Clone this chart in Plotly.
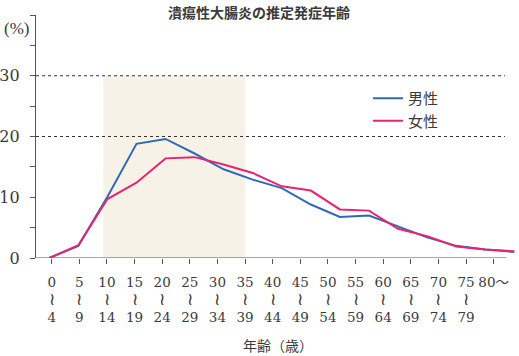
import plotly.graph_objects as go

SQ = '<span style="font-size:17px">≀</span>'
lows = [0, 5, 10, 15, 20, 25, 30, 35, 40, 45, 50, 55, 60, 65, 70, 75]
highs = [4, 9, 14, 19, 24, 29, 34, 39, 44, 49, 54, 59, 64, 69, 74, 79]
categories = [f"{a}<br>{SQ}<br>{b}" for a, b in zip(lows, highs)] + ["80〜"]
male = [0.0, 2.0, 10.1, 18.8, 19.6, 17.2, 14.6, 12.9, 11.5, 8.8, 6.75, 7.0, 5.2, 3.4, 2.0, 1.4, 1.0]
female = [0.0, 2.1, 9.7, 12.4, 16.4, 16.6, 15.4, 14.0, 11.8, 11.1, 8.0, 7.8, 4.8, 3.6, 1.9, 1.4, 1.1]
yticks = [0, 10, 20, 30]
gridlines = [20, 30]
shade_range = (1.87, 7.01)

title = "潰瘍性大腸炎の推定発症年齢"
xlabel = "年齢（歳）"
ylabel = "(%)"

SERIF = "DejaVu Serif, Noto Sans CJK JP, serif"
SERIF2 = "Liberation Serif, Noto Sans CJK JP, serif"
CJK = "Noto Sans CJK JP, Liberation Serif, sans-serif"
TXT = "#3a3a3a"
AX = "#555555"

idx = list(range(len(categories)))

fig = go.Figure()
fig.add_trace(go.Scatter(x=idx, y=male, name="男性", mode="lines", xaxis="x2",
                         line=dict(color="#2e6bb5", width=2)))
fig.add_trace(go.Scatter(x=idx, y=female, name="女性", mode="lines", xaxis="x2",
                         line=dict(color="#e8246f", width=2)))
# invisible trace to keep primary axis active
fig.add_trace(go.Scatter(x=idx, y=[None] * len(idx), showlegend=False, hoverinfo="skip"))

x_lo, x_hi = -0.568, 16.81
x_end = 16.47

shapes = [
    dict(type="rect", xref="x", yref="y", x0=shade_range[0], x1=shade_range[1], y0=0, y1=30,
         fillcolor="#f7f2e7", line=dict(width=0), layer="below"),
]
for g in gridlines:
    shapes.append(dict(type="line", xref="x", yref="y", x0=x_lo, x1=16.41, y0=g, y1=g,
                       line=dict(color="#333333", width=1, dash="3px,3px"), layer="below"))
shapes.append(dict(type="line", xref="x", yref="y", x0=x_lo, x1=x_end, y0=0, y1=0,
                   line=dict(color=AX, width=1.2), layer="above"))

fig.update_layout(
    width=519, height=356,
    margin=dict(l=36, r=3, t=15, b=98, autoexpand=False),
    plot_bgcolor="white", paper_bgcolor="white",
    shapes=shapes,
    xaxis=dict(range=[x_lo, x_hi], tickmode="array", tickvals=idx, ticktext=categories,
               showgrid=False, zeroline=False, showline=False, automargin=False,
               ticks="outside", ticklen=5, tickcolor=AX, tickwidth=1,
               tickfont=dict(family=SERIF, size=13.5, color=TXT), tickangle=0,
               ticklabelstandoff=7),
    xaxis2=dict(range=[-0.458, 16.06], overlaying="x", visible=False, matches=None),
    yaxis=dict(range=[0, 40], tickvals=yticks, showgrid=False, zeroline=False,
               showline=True, linecolor=AX, linewidth=1.2, automargin=False,
               ticks="outside", ticklen=5, tickcolor=AX,
               minor=dict(dtick=5, ticks="outside", ticklen=5, tickcolor=AX),
               tickfont=dict(family=SERIF, size=16, color=TXT), ticklabelstandoff=7),
    showlegend=True,
    legend=dict(x=(368 - 36) / 480, y=1 - (82 - 15) / 243, xanchor="left", yanchor="top",
                bgcolor="rgba(0,0,0,0)", font=dict(family=CJK, size=15, color=TXT),
                tracegroupgap=0),
    annotations=[
        dict(text="<b>" + title + "</b>", xref="paper", yref="paper", x=(259 - 36) / 480,
             y=1 + (15 - 12) / 243, xanchor="center", yanchor="middle", showarrow=False,
             font=dict(family=CJK, size=14, color=TXT)),
        dict(text=ylabel, xref="paper", yref="paper", x=-34 / 480, y=1 - (29 - 15) / 243,
             xanchor="left", yanchor="middle", showarrow=False,
             font=dict(family=SERIF2, size=17, color=TXT)),
        dict(text=xlabel, xref="paper", yref="paper", x=(278 - 36) / 480, y=-(345 - 258) / 243,
             xanchor="center", yanchor="middle", showarrow=False,
             font=dict(family=CJK, size=14, color=TXT)),
    ],
)

fig.write_html("out.html", config={"displayModeBar": False},
               post_script="document.body.style.margin='0';document.body.style.overflow='hidden';")
